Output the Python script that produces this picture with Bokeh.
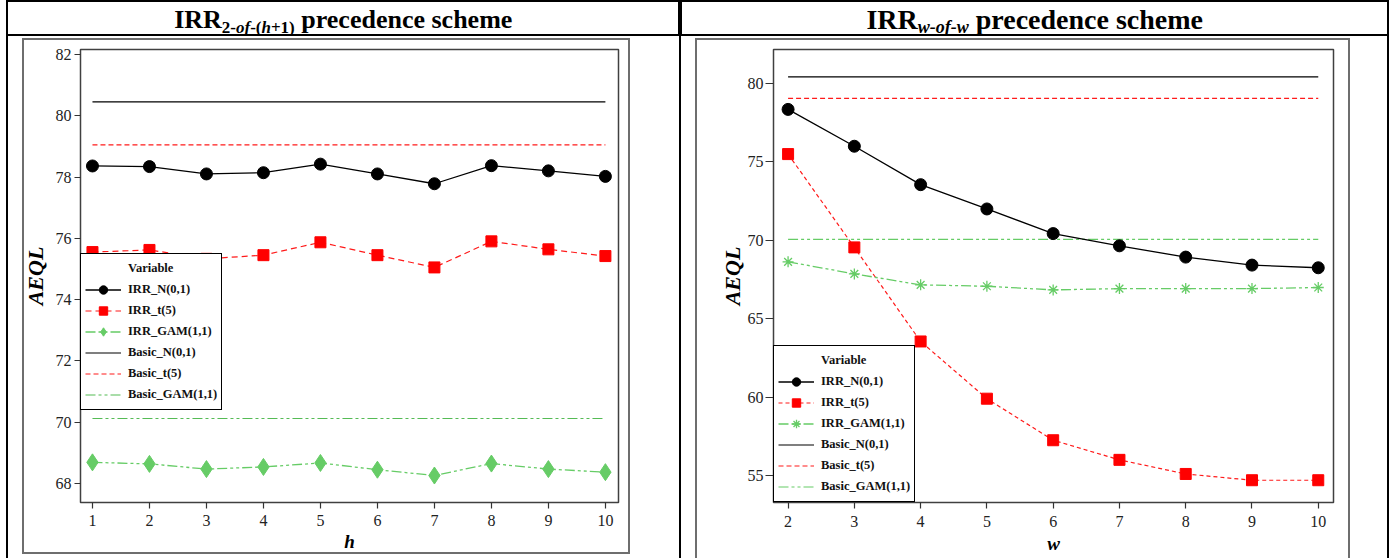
from bokeh.plotting import figure
from bokeh.models import Range1d, FixedTicker, Legend, LegendItem
from bokeh.layouts import column, row
from bokeh.embed import file_html
from bokeh.resources import INLINE
from bokeh.core.properties import value

# ---------------- data ----------------
h_values = [1, 2, 3, 4, 5, 6, 7, 8, 9, 10]
left_irr_n = [78.36, 78.34, 78.10, 78.14, 78.42, 78.10, 77.78, 78.37, 78.20, 78.02]
left_irr_t = [75.55, 75.62, 75.33, 75.45, 75.87, 75.45, 75.05, 75.90, 75.64, 75.42]
left_irr_gam = [68.69, 68.64, 68.47, 68.54, 68.67, 68.45, 68.26, 68.65, 68.47, 68.37]
left_basic_n = 80.45
left_basic_t = 79.05
left_basic_gam = 70.12
left_y_ticks = [68, 70, 72, 74, 76, 78, 80, 82]

w_values = [2, 3, 4, 5, 6, 7, 8, 9, 10]
right_irr_n = [78.35, 76.0, 73.55, 72.0, 70.43, 69.65, 68.93, 68.42, 68.25]
right_irr_t = [75.5, 69.55, 63.55, 59.9, 57.25, 56.0, 55.1, 54.7, 54.7]
right_irr_gam = [68.63, 67.86, 67.16, 67.07, 66.84, 66.92, 66.92, 66.92, 66.99]
right_basic_n = 80.42
right_basic_t = 79.05
right_basic_gam = 70.06
right_y_ticks = [55, 60, 65, 70, 75, 80]

legend_title = "Variable"
series_names = ["IRR_N(0,1)", "IRR_t(5)", "IRR_GAM(1,1)",
                "Basic_N(0,1)", "Basic_t(5)", "Basic_GAM(1,1)"]
y_label = "AEQL"
left_x_label = "h"
right_x_label = "w"

# header pieces: (text, style, is_subscript)
left_header = [("IRR", "bold", False), ("2-", "bold", True), ("of", "bold italic", True),
               ("-(", "bold", True), ("h", "bold italic", True), ("+1)", "bold", True),
               ("precedence scheme", "bold", False)]
right_header = [("IRR", "bold", False), ("w-of-w", "bold italic", True),
                ("precedence scheme", "bold", False)]

# ---------------- styling constants ----------------
SERIF = "Liberation Serif"
BLACK = "black"
RED = "#ff1a1a"
GREEN = "#66cc66"
GREEN2 = "#55bb55"
GRAY = "#6e6e6e"

BOLD_W = {"I": 389, "R": 722, "2": 500, "-": 333, "(": 333, "+": 570, "1": 500, ")": 333,
          " ": 250, "p": 556, "r": 444, "e": 444, "c": 444, "d": 556, "n": 556, "s": 389,
          "h": 556, "m": 833}
BI_W = {"o": 500, "f": 333, "h": 556, "w": 667, "-": 333}


def text_width(s, style, size):
    table = BI_W if "italic" in style else BOLD_W
    return sum(table.get(c, 500) for c in s) * size / 1000.0


def css_lines(lines):
    imgs = ", ".join("linear-gradient(%s, %s)" % (c, c) for (_, _, _, _, c) in lines)
    pos = ", ".join("%dpx %dpx" % (x, y) for (x, y, _, _, _) in lines)
    size = ", ".join("%dpx %dpx" % (w, h) for (_, _, w, h, _) in lines)
    return {"background-color": "white", "background-image": imgs,
            "background-position": pos, "background-size": size,
            "background-repeat": "no-repeat"}


def make_header(width, pieces, f_main, f_sub):
    p = figure(width=width, height=36, x_range=Range1d(0, width), y_range=Range1d(0, 36),
               x_axis_location=None, y_axis_location=None, output_backend="svg",
               toolbar_location=None, min_border=0, title=None)
    p.xgrid.visible = False
    p.ygrid.visible = False
    p.outline_line_color = BLACK
    p.outline_line_width = 3
    widths = []
    for i, (t, st, sub) in enumerate(pieces):
        size = f_sub if sub else f_main
        gap = 0.0
        if i > 0 and not sub and pieces[i - 1][2]:
            gap = 0.25 * f_main
        widths.append((gap, text_width(t, st, size)))
    total = sum(g + w for g, w in widths)
    x = (width - total) / 2.0
    for (t, st, sub), (g, w) in zip(pieces, widths):
        x += g
        size = f_sub if sub else f_main
        base_px = 32.5 if sub else 27.5
        y = 36 - base_px + 0.31 * size
        p.text(x=[x], y=[y], text=[t],
               text_font=value(SERIF), text_font_style=st,
               text_font_size="%dpx" % size,
               text_align="left", text_baseline="alphabetic", text_color=BLACK)
        x += w
    return p


def make_plot(width, height, borders, xr, yr, x_ticks, y_ticks, xlabel,
              ytick_out, ytick_standoff, ylabel_standoff, xlabel_standoff, xtick_standoff,
              lines):
    fl, fr, ft, fb = borders
    p = figure(width=width, height=height, x_range=Range1d(*xr), y_range=Range1d(*yr),
               output_backend="svg", toolbar_location=None, title=None,
               min_border_left=fl, min_border_right=fr,
               min_border_top=ft, min_border_bottom=fb, styles=css_lines(lines))
    p.border_fill_color = None
    p.border_fill_alpha = 0
    p.background_fill_color = "white"
    p.xgrid.visible = False
    p.ygrid.visible = False
    p.outline_line_color = "#404040"
    p.outline_line_width = 1.5
    p.outline_line_alpha = 1
    for ax in (p.xaxis, p.yaxis):
        ax.axis_line_color = None
        ax.major_tick_in = 0
        ax.minor_tick_line_color = None
        ax.major_tick_line_color = "#333333"
        ax.major_tick_line_width = 1.2
        ax.major_label_text_font = SERIF
        ax.major_label_text_font_size = "16px"
        ax.major_label_text_color = "#222222"
        ax.axis_label_text_font = SERIF
        ax.axis_label_text_font_style = "bold italic"
        ax.axis_label_text_color = BLACK
    p.xaxis.ticker = FixedTicker(ticks=x_ticks)
    p.yaxis.ticker = FixedTicker(ticks=y_ticks)
    p.xaxis.major_tick_out = 6
    p.yaxis.major_tick_out = ytick_out
    p.xaxis.major_label_standoff = xtick_standoff
    p.yaxis.major_label_standoff = ytick_standoff
    p.xaxis.axis_label = xlabel
    p.yaxis.axis_label = y_label
    p.xaxis.axis_label_text_font_size = "19px"
    p.yaxis.axis_label_text_font_size = "22px"
    p.xaxis.axis_label_standoff = xlabel_standoff
    p.yaxis.axis_label_standoff = ylabel_standoff
    return p


def make_legend(p, items, loc):
    leg = Legend(items=items, location=loc, orientation="vertical",
                 border_line_color=BLACK, border_line_width=1, border_line_alpha=1,
                 background_fill_color="white", background_fill_alpha=1,
                 padding=4, spacing=0, margin=0, label_height=21, glyph_height=21,
                 glyph_width=36, label_standoff=7, label_text_font=SERIF,
                 label_text_font_style="bold", label_text_font_size="12.5px",
                 label_text_color="#111111")
    p.add_layout(leg)


# frames of the two plots in a row share top/bottom borders (13 / 56)
# ---------------- left panel ----------------
hl = make_header(674, left_header, 26, 17)
left_lines = [(0, 0, 2, 522, BLACK), (673, 0, 1, 522, BLACK),
              (16, 2, 2, 516, GRAY), (622, 2, 2, 516, GRAY),
              (16, 2, 608, 2, GRAY), (16, 516, 608, 2, GRAY)]
pl = make_plot(674, 522, (74, 62, 13, 56), (0.79, 10.23), (67.38, 82.16),
               h_values, left_y_ticks, left_x_label, 6, 3, 5, 2, 6, left_lines)

l_dummy = pl.line(x=[], y=[], line_alpha=0)
l_bn = pl.line(x=[h_values[0], h_values[-1]], y=[left_basic_n, left_basic_n],
               line_color=BLACK, line_width=1.2)
l_bt = pl.line(x=[h_values[0], h_values[-1]], y=[left_basic_t, left_basic_t],
               line_color=RED, line_width=1.2, line_dash="5 3")
l_bg = pl.line(x=[h_values[0], h_values[-1]], y=[left_basic_gam, left_basic_gam],
               line_color=GREEN2, line_width=1.2, line_dash="10 3 3 3 3 3")
l_nl = pl.line(h_values, left_irr_n, line_color=BLACK, line_width=1.3)
l_nm = pl.scatter(h_values, left_irr_n, marker="circle", size=12, fill_color=BLACK,
                  line_color=BLACK)
l_tl = pl.line(h_values, left_irr_t, line_color=RED, line_width=1.2, line_dash="6 4")
l_tm = pl.scatter(h_values, left_irr_t, marker="square", size=11, fill_color="#ff0000",
                  line_color="#ff0000")
l_gl = pl.line(h_values, left_irr_gam, line_color=GREEN, line_width=1.3,
               line_dash="10 3 3 3 3 3")
l_gm = pl.scatter(h_values, left_irr_gam, marker="diamond", size=17, fill_color=GREEN,
                  line_color=GREEN)
make_legend(pl, [
    LegendItem(label=legend_title, renderers=[l_dummy]),
    LegendItem(label=series_names[0], renderers=[l_nl, l_nm]),
    LegendItem(label=series_names[1], renderers=[l_tl, l_tm]),
    LegendItem(label=series_names[2], renderers=[l_gl, l_gm]),
    LegendItem(label=series_names[3], renderers=[l_bn]),
    LegendItem(label=series_names[4], renderers=[l_bt]),
    LegendItem(label=series_names[5], renderers=[l_bg]),
], (0, 92))

# ---------------- right panel ----------------
hr = make_header(709, right_header, 28, 18)
right_lines = [(0, 0, 1, 522, BLACK), (707, 0, 2, 522, BLACK),
               (15, 2, 2, 520, GRAY), (668, 2, 2, 520, GRAY),
               (15, 2, 655, 2, GRAY)]
pr = make_plot(709, 522, (93, 56, 13, 56), (1.78, 10.23), (53.28, 82.17),
               w_values, right_y_ticks, right_x_label, 8, 2, 0, 3, 7, right_lines)

r_dummy = pr.line(x=[], y=[], line_alpha=0)
r_bn = pr.line(x=[w_values[0], w_values[-1]], y=[right_basic_n, right_basic_n],
               line_color=BLACK, line_width=1.2)
r_bt = pr.line(x=[w_values[0], w_values[-1]], y=[right_basic_t, right_basic_t],
               line_color=RED, line_width=1.2, line_dash="5 3")
r_bg = pr.line(x=[w_values[0], w_values[-1]], y=[right_basic_gam, right_basic_gam],
               line_color=GREEN, line_width=1.2, line_dash="10 3 3 3 3 3")
r_nl = pr.line(w_values, right_irr_n, line_color=BLACK, line_width=1.3)
r_nm = pr.scatter(w_values, right_irr_n, marker="circle", size=12, fill_color=BLACK,
                  line_color=BLACK)
r_tl = pr.line(w_values, right_irr_t, line_color=RED, line_width=1.2, line_dash="4 3")
r_tm = pr.scatter(w_values, right_irr_t, marker="square", size=11, fill_color="#ff0000",
                  line_color="#ff0000")
r_gl = pr.line(w_values, right_irr_gam, line_color=GREEN, line_width=1.3,
               line_dash="10 3 3 3 3 3")
r_gm = pr.scatter(w_values, right_irr_gam, marker="asterisk", size=11, line_color=GREEN,
                  line_width=1.3)
make_legend(pr, [
    LegendItem(label=legend_title, renderers=[r_dummy]),
    LegendItem(label=series_names[0], renderers=[r_nl, r_nm]),
    LegendItem(label=series_names[1], renderers=[r_tl, r_tm]),
    LegendItem(label=series_names[2], renderers=[r_gl, r_gm]),
    LegendItem(label=series_names[3], renderers=[r_bn]),
    LegendItem(label=series_names[4], renderers=[r_bt]),
    LegendItem(label=series_names[5], renderers=[r_bg]),
], "bottom_left")

layout = column(row(hl, hr, spacing=0), row(pl, pr, spacing=0), spacing=0,
                margin=(0, 0, 0, 6))

open("out.html", "w").write(file_html(layout, INLINE))
